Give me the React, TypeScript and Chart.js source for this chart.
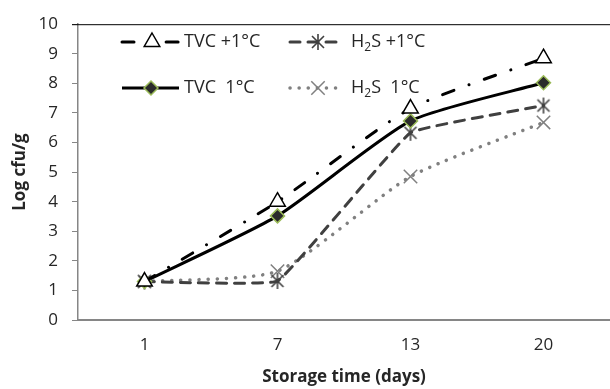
import React, { useEffect, useRef } from "react";
import { Chart, registerables } from "chart.js";

Chart.register(...registerables);

const categories = ["1", "7", "13", "20"];
const tvcPlus = [1.3, 4.0, 7.15, 8.85];
const tvc1 = [1.3, 3.52, 6.73, 8.02];
const h2sPlus = [1.3, 1.32, 6.33, 7.25];
const h2s1 = [1.3, 1.65, 4.85, 6.68];
const yTicks = [0, 1, 2, 3, 4, 5, 6, 7, 8, 9, 10];

const FONT = "'Open Sans', sans-serif";
const TEXT = "#262626";

type LegendItem = {
  ds: number;
  x1: number;
  x2: number;
  mx: number;
  y: number;
  tx: number;
  parts: { t: string; sub?: boolean }[];
};

const legendItems: LegendItem[] = [
  { ds: 0, x1: 122, x2: 179, mx: 152, y: 42, tx: 184, parts: [{ t: "TVC +1°C" }] },
  { ds: 2, x1: 290, x2: 344, mx: 318, y: 42, tx: 351, parts: [{ t: "H" }, { t: "2", sub: true }, { t: "S +1°C" }] },
  { ds: 1, x1: 122, x2: 179, mx: 151, y: 88, tx: 184, parts: [{ t: "TVC  1°C" }] },
  { ds: 3, x1: 290, x2: 344, mx: 318, y: 88, tx: 351, parts: [{ t: "H" }, { t: "2", sub: true }, { t: "S  1°C" }] },
];

function makeAsterisk(color: string): HTMLCanvasElement {
  const c = document.createElement("canvas");
  c.width = 18;
  c.height = 18;
  const g = c.getContext("2d")!;
  g.strokeStyle = color;
  g.lineWidth = 1.6;
  g.beginPath();
  g.moveTo(9 - 6, 9 - 6); g.lineTo(9 + 6, 9 + 6);
  g.moveTo(9 - 6, 9 + 6); g.lineTo(9 + 6, 9 - 6);
  g.moveTo(9, 9 - 8); g.lineTo(9, 9 + 8);
  g.stroke();
  return c;
}

function drawMarker(ctx: CanvasRenderingContext2D, style: any, x: number, y: number, r: number, fill: string, stroke: string, bw: number) {
  ctx.save();
  if (typeof style !== "string") {
    ctx.drawImage(style, x - style.width / 2, y - style.height / 2);
    ctx.restore();
    return;
  }
  ctx.beginPath();
  ctx.lineWidth = bw;
  ctx.strokeStyle = stroke;
  ctx.fillStyle = fill;
  if (style === "triangle") {
    ctx.moveTo(x, y - r);
    ctx.lineTo(x + r * 0.866, y + r * 0.5);
    ctx.lineTo(x - r * 0.866, y + r * 0.5);
    ctx.closePath();
    ctx.fill();
    ctx.stroke();
  } else if (style === "rectRot") {
    ctx.moveTo(x, y - r);
    ctx.lineTo(x + r, y);
    ctx.lineTo(x, y + r);
    ctx.lineTo(x - r, y);
    ctx.closePath();
    ctx.fill();
    ctx.stroke();
  } else if (style === "crossRot") {
    const d = r * 0.7071;
    ctx.moveTo(x - d, y - d); ctx.lineTo(x + d, y + d);
    ctx.moveTo(x - d, y + d); ctx.lineTo(x + d, y - d);
    ctx.stroke();
  }
  ctx.restore();
}

const legendPlugin = {
  id: "customLegend",
  afterDraw(chart: any) {
    const ctx: CanvasRenderingContext2D = chart.ctx;
    const { left, right, top } = chart.chartArea;
    ctx.save();
    ctx.beginPath();
    ctx.strokeStyle = "#000";
    ctx.lineWidth = 1;
    ctx.moveTo(left - 6, top + 0.5);
    ctx.lineTo(right, top + 0.5);
    ctx.stroke();
    ctx.restore();

    legendItems.forEach((it) => {
      const ds: any = chart.data.datasets[it.ds];
      ctx.save();
      ctx.beginPath();
      ctx.strokeStyle = ds.borderColor;
      ctx.lineWidth = ds.borderWidth;
      ctx.lineCap = ds.borderCapStyle || "butt";
      ctx.setLineDash(ds.borderDash || []);
      ctx.moveTo(it.x1, it.y);
      ctx.lineTo(it.x2, it.y);
      ctx.stroke();
      ctx.restore();
      drawMarker(ctx, ds.pointStyle, it.mx, it.y, ds.pointRadius, ds.pointBackgroundColor, ds.pointBorderColor, ds.pointBorderWidth);

      ctx.save();
      ctx.fillStyle = TEXT;
      ctx.textBaseline = "middle";
      let x = it.tx;
      it.parts.forEach((p) => {
        ctx.font = p.sub ? `12px ${FONT}` : `18px ${FONT}`;
        ctx.fillText(p.t, x, p.sub ? it.y + 6 : it.y);
        x += ctx.measureText(p.t).width;
      });
      ctx.restore();
    });
  },
};

export default function App() {
  const ref = useRef<HTMLCanvasElement | null>(null);
  useEffect(() => {
    document.body.style.margin = "0";
    const asterisk = makeAsterisk("#404040");
    const chart = new Chart(ref.current!, {
      type: "line",
      data: {
        labels: categories,
        datasets: [
          {
            label: "TVC +1°C",
            data: tvcPlus,
            borderColor: "#000",
            borderWidth: 3,
            borderDash: [12, 16, 0.1, 16],
            borderCapStyle: "round",
            pointStyle: "triangle",
            pointRadius: 9,
            pointBackgroundColor: "#fff",
            pointBorderColor: "#000",
            pointBorderWidth: 1.5,
            tension: 0.2,
            order: 0,
          } as any,
          {
            label: "TVC 1°C",
            data: tvc1,
            borderColor: "#000",
            borderWidth: 3,
            borderDash: [],
            pointStyle: "rectRot",
            pointRadius: 7,
            pointBackgroundColor: "#2b2b2b",
            pointBorderColor: "#9BBB59",
            pointBorderWidth: 1.5,
            tension: 0.2,
            order: 1,
          } as any,
          {
            label: "H2S +1°C",
            data: h2sPlus,
            borderColor: "#404040",
            borderWidth: 3,
            borderDash: [10, 8],
            borderCapStyle: "round",
            pointStyle: asterisk,
            pointRadius: 8,
            pointBackgroundColor: "#404040",
            pointBorderColor: "#404040",
            pointBorderWidth: 1.5,
            tension: 0.08,
            order: 2,
          } as any,
          {
            label: "H2S 1°C",
            data: h2s1,
            borderColor: "#808080",
            borderWidth: 3.5,
            borderDash: [0.1, 9],
            borderCapStyle: "round",
            pointStyle: "crossRot",
            pointRadius: 9.5,
            pointBackgroundColor: "#808080",
            pointBorderColor: "#808080",
            pointBorderWidth: 1.5,
            tension: 0.2,
            order: 3,
          } as any,
        ],
      },
      options: {
        animation: false,
        responsive: false,
        maintainAspectRatio: false,
        layout: { autoPadding: false, padding: { top: 20, right: 0, left: 0, bottom: 0 } },
        plugins: { legend: { display: false }, tooltip: { enabled: false } },
        scales: {
          x: {
            offset: true,
            grid: { display: false, drawTicks: true, tickLength: 15, offset: true },
            border: { display: true, color: "#868686", width: 2 },
            ticks: { color: TEXT, padding: 0, font: { family: FONT, size: 17 } },
            title: {
              display: true,
              text: "Storage time (days)",
              color: TEXT,
              font: { family: FONT, size: 17, weight: "bold" },
              padding: { top: 0, bottom: 2 },
            },
            afterFit: (s: any) => { s.height = 69; s.paddingRight = 0; s.paddingLeft = 0; },
          },
          y: {
            min: 0,
            max: 10,
            afterBuildTicks: (s: any) => { s.ticks = yTicks.map((v) => ({ value: v })); },
            grid: { display: true, drawOnChartArea: false, drawTicks: true, tickLength: 6, color: "#868686", lineWidth: 1 },
            border: { display: true, color: "#868686", width: 1.5 },
            ticks: { color: TEXT, padding: 14, font: { family: FONT, size: 17 } },
            title: {
              display: true,
              text: "Log cfu/g",
              color: TEXT,
              font: { family: FONT, size: 17, weight: "bold" },
              padding: { top: 10, bottom: 0 },
            },
            afterFit: (s: any) => { s.width = 78; },
          },
        },
      } as any,
      plugins: [legendPlugin],
    });
    return () => chart.destroy();
  }, []);
  return (
    <div style={{ position: "fixed", left: 0, top: 0, width: 610, height: 389 }}>
      <canvas ref={ref} width={610} height={389} style={{ width: 610, height: 389 }} />
    </div>
  );
}
